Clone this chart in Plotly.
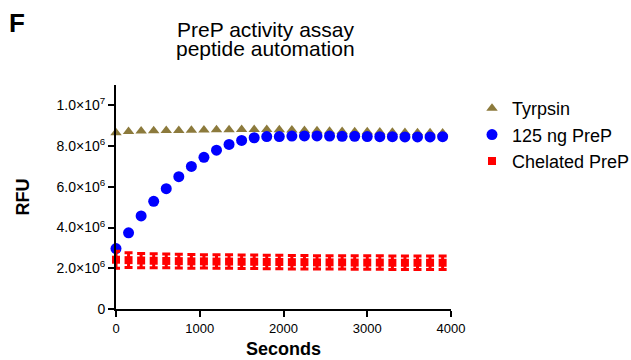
import plotly.graph_objects as go

seconds = [i * 150 for i in range(27)]

tyrpsin = [8.65, 8.72, 8.74, 8.75, 8.76, 8.77, 8.78, 8.79, 8.80, 8.80, 8.81, 8.81, 8.81, 8.80,
           8.79, 8.77, 8.75, 8.73, 8.72, 8.71, 8.70, 8.69, 8.68, 8.67, 8.66, 8.65, 8.64]
prep_125 = [2.97, 3.74, 4.57, 5.29, 5.91, 6.50, 7.00, 7.45, 7.80, 8.08, 8.28, 8.41, 8.47, 8.47,
            8.49, 8.50, 8.50, 8.49, 8.48, 8.48, 8.47, 8.46, 8.46, 8.45, 8.45, 8.45, 8.46]
chelated = [2.42, 2.40, 2.38, 2.37, 2.36, 2.35, 2.34, 2.34, 2.33, 2.33, 2.32, 2.32, 2.31, 2.31,
            2.30, 2.30, 2.29, 2.29, 2.29, 2.28, 2.28, 2.28, 2.27, 2.27, 2.27, 2.27, 2.27]
chelated_err = [0.42, 0.36, 0.35, 0.34, 0.34, 0.34, 0.34, 0.33, 0.33, 0.33, 0.33, 0.33, 0.33, 0.33,
                0.33, 0.33, 0.33, 0.33, 0.33, 0.33, 0.33, 0.33, 0.33, 0.33, 0.33, 0.33, 0.33]

y_tick_vals = [0, 2e6, 4e6, 6e6, 8e6, 1e7]
y_tick_text = ["0", "2.0×10<sup>6</sup>", "4.0×10<sup>6</sup>", "6.0×10<sup>6</sup>",
               "8.0×10<sup>6</sup>", "1.0×10<sup>7</sup>"]
x_tick_vals = [0, 1000, 2000, 3000, 4000]

# plot area in pixels
L, R, T, B = 116, 451, 85, 309
W, H = 631, 360


def px(x):
    return (x - L) / (R - L)


def py(y):
    return (B - y) / (B - T)


M = 1e6
fig = go.Figure()
fig.add_trace(go.Scatter(
    x=seconds, y=[v * M for v in tyrpsin], mode="markers", name="Tyrpsin",
    marker=dict(symbol="triangle-up", size=10, color="#8C7A3C"), cliponaxis=False))
fig.add_trace(go.Scatter(
    x=seconds, y=[v * M for v in prep_125], mode="markers", name="125 ng PreP",
    marker=dict(symbol="circle", size=11, color="#0000FF"), cliponaxis=False))
fig.add_trace(go.Scatter(
    x=seconds, y=[v * M for v in chelated], mode="markers", name="Chelated PreP",
    marker=dict(symbol="square", size=8, color="#FF0000"),
    error_y=dict(type="data", array=[e * M for e in chelated_err], color="#FF0000",
                 thickness=3, width=4),
    cliponaxis=False))

font_family = "Arial, Liberation Sans, sans-serif"
fig.update_layout(
    width=W, height=H,
    margin=dict(l=L, r=W - R, t=T, b=H - B, autoexpand=False),
    paper_bgcolor="white", plot_bgcolor="white",
    font=dict(family=font_family, color="black", size=14),
    showlegend=True,
    legend=dict(x=px(472), y=py(90), xanchor="left", yanchor="top", bgcolor="rgba(0,0,0,0)",
                font=dict(size=18), itemsizing="trace", tracegroupgap=0),
    annotations=[
        dict(text="<b>F</b>", x=px(17), y=py(23), xref="paper", yref="paper",
             xanchor="center", yanchor="middle", showarrow=False, font=dict(size=26)),
        dict(text="PreP activity assay", x=px(265.5), y=py(29), xref="paper", yref="paper",
             xanchor="center", yanchor="middle", showarrow=False, font=dict(size=21)),
        dict(text="peptide automation", x=px(265.5), y=py(49), xref="paper", yref="paper",
             xanchor="center", yanchor="middle", showarrow=False, font=dict(size=21)),
    ],
)

fig.update_xaxes(
    range=[0, 4000], tickvals=x_tick_vals, showline=True, linecolor="black", linewidth=2,
    ticks="outside", ticklen=6, tickwidth=2, tickcolor="black", showgrid=False, zeroline=False,
    tickfont=dict(size=13), automargin=False,
    title=dict(text="<b>Seconds</b>", font=dict(size=18), standoff=8))
fig.update_yaxes(
    range=[0, 1.1e7], tickvals=y_tick_vals, ticktext=y_tick_text, showline=True,
    linecolor="black", linewidth=2, ticks="outside", ticklen=6, tickwidth=2, tickcolor="black",
    showgrid=False, zeroline=False, tickfont=dict(size=14), automargin=False,
    title=dict(text="<b>RFU</b>", font=dict(size=18), standoff=22))

fig.write_html("out.html")
